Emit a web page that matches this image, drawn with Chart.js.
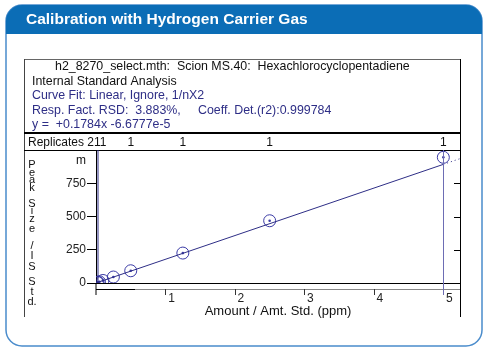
<!DOCTYPE html>
<html><head><meta charset="utf-8">
<script src="https://cdn.jsdelivr.net/npm/chart.js@4/dist/chart.umd.min.js"></script>
<style>html,body{margin:0;padding:0;background:#fff}canvas{display:block}</style>
</head><body>
<canvas id="c" width="487" height="353"></canvas>
<script>
// ---- data ----
const panelTitle = 'Calibration with Hydrogen Carrier Gas';
const infoLines = [
  'h2_8270_select.mth:  Scion MS.40:  Hexachlorocyclopentadiene',
  'Internal Standard Analysis',
  'Curve Fit: Linear, Ignore, 1/nX2',
  'Resp. Fact. RSD:  3.883%,     Coeff. Det.(r2):0.999784',
  'y =  +0.1784x -6.6777e-5'
];
const replicatesLabel = 'Replicates 211';
const replicateAmounts = [0.5, 1.25, 2.5, 5];
const replicateCounts = ['1', '1', '1', '1'];
const amounts = [0.02, 0.03, 0.05, 0.1, 0.25, 0.5, 1.25, 2.5, 5];
const responses = [3, 6, 9, 19, 45, 92, 225, 468, 945];
const fitX = [0, 5];
const fitY = [0, 892];
const extX = [5, 5.24];
const extY = [892, 935];
const xTicks = [1, 2, 3, 4, 5];
const yTicks = [0, 250, 500, 750];
const yTitleLetters = ['P','e','a','k','S','i','z','e','/','I','S','S','t','d.'];
const xTitle = 'Amount / Amt. Std. (ppm)';
const yUnit = 'm';

const FONT = "'Liberation Sans', Arial, sans-serif";
const NAVY = '#2e2e86';
const MARK = '#3b3ba6';

const framePlugin = {
  id: 'frame',
  beforeDraw(chart) {
    const c = chart.ctx;
    c.save();
    // panel outline
    const L = 6, T = 5, R = 482, B = 346, r = 16;
    c.beginPath();
    c.moveTo(L + r, T); c.lineTo(R - r, T); c.arcTo(R, T, R, T + r, r);
    c.lineTo(R, B - r); c.arcTo(R, B, R - r, B, r); c.lineTo(L + r, B);
    c.arcTo(L, B, L, B - r, r); c.lineTo(L, T + r); c.arcTo(L, T, L + r, T, r);
    c.closePath();
    c.fillStyle = '#fff'; c.fill();
    c.strokeStyle = '#4a8ccc'; c.lineWidth = 1.5; c.stroke();
    // header
    c.beginPath();
    c.moveTo(L, 34); c.lineTo(L, T + r); c.arcTo(L, T, L + r, T, r);
    c.lineTo(R - r, T); c.arcTo(R, T, R, T + r, r); c.lineTo(R, 34); c.closePath();
    c.fillStyle = '#0b6db6'; c.fill();
    c.fillStyle = '#fff';
    c.font = "bold 15.5px " + FONT;
    c.textBaseline = 'middle'; c.textAlign = 'left';
    c.fillText(panelTitle, 26, 19.5);

    // inner box
    c.lineWidth = 1;
    c.strokeStyle = '#666';
    c.beginPath(); c.moveTo(24, 59.5); c.lineTo(460, 59.5); c.stroke();
    c.strokeStyle = '#444';
    c.beginPath(); c.moveTo(24.5, 59); c.lineTo(24.5, 317); c.stroke();
    c.strokeStyle = '#000';
    c.beginPath(); c.moveTo(460.5, 59); c.lineTo(460.5, 317); c.stroke();
    c.lineWidth = 2;
    c.beginPath(); c.moveTo(24, 133); c.lineTo(461, 133); c.stroke();
    c.lineWidth = 1;
    c.beginPath(); c.moveTo(24, 150.5); c.lineTo(461, 150.5); c.stroke();

    // info text
    c.font = "12.4px " + FONT;
    const ys = [67, 81.5, 96, 110.5, 125];
    const xs = [55, 32, 32, 32, 32];
    infoLines.forEach((t, i) => {
      c.fillStyle = i < 2 ? '#111' : NAVY;
      c.fillText(t, xs[i], ys[i]);
    });
    // replicates
    c.fillStyle = '#111';
    c.font = "12px " + FONT;
    c.fillText(replicatesLabel, 28, 142.5);
    const xs2 = chart.scales.x;
    c.textAlign = 'center';
    replicateAmounts.forEach((a, i) => {
      c.fillText(replicateCounts[i], xs2.getPixelForValue(a), 142.5);
    });
    c.restore();
  },
  afterDraw(chart) {
    const c = chart.ctx;
    const xs = chart.scales.x, ys = chart.scales.y;
    const a = chart.chartArea;
    c.save();
    // double y axis line
    c.strokeStyle = NAVY; c.lineWidth = 1;
    c.beginPath(); c.moveTo(a.left + 2, a.top); c.lineTo(a.left + 2, a.bottom); c.stroke();
    // extend left axis line down
    c.strokeStyle = '#000';
    c.beginPath(); c.moveTo(a.left, a.bottom); c.lineTo(a.left, 295); c.stroke();
    // lower x axis line
    c.strokeStyle = '#888';
    c.beginPath(); c.moveTo(a.left, 289.5); c.lineTo(460, 289.5); c.stroke();
    c.strokeStyle = '#000';
    c.beginPath(); c.moveTo(a.left, 289.5); c.lineTo(135, 289.5); c.stroke();
    // x tick marks
    c.strokeStyle = '#333';
    xTicks.forEach(v => {
      const px = Math.round(xs.getPixelForValue(v)) + 0.5;
      c.beginPath(); c.moveTo(px, 289); c.lineTo(px, 295); c.stroke();
    });
    // right side ticks
    c.strokeStyle = '#000';
    yTicks.filter(v => v > 0).forEach(v => {
      const py = Math.round(ys.getPixelForValue(v)) + 0.5;
      c.beginPath(); c.moveTo(460, py); c.lineTo(454, py); c.stroke();
    });
    // vertical marker at highest standard
    c.strokeStyle = '#6d6db4';
    const vx = Math.round(xs.getPixelForValue(replicateAmounts[replicateAmounts.length - 1])) + 0.5;
    c.beginPath(); c.moveTo(vx, a.top); c.lineTo(vx, 295); c.stroke();
    // y title letters
    c.fillStyle = '#111';
    c.font = "11px " + FONT;
    c.textAlign = 'center'; c.textBaseline = 'middle';
    const ly = [165, 173, 180, 188, 204, 211, 219, 229, 246, 256, 267, 282, 292, 302];
    yTitleLetters.forEach((t, i) => c.fillText(t, 32, ly[i]));
    c.font = "12px " + FONT;
    c.fillText(yUnit, 81, 161);
    c.restore();
  }
};

new Chart(document.getElementById('c'), {
  type: 'scatter',
  data: {
    datasets: [
      { type: 'line', data: fitX.map((x, i) => ({ x, y: fitY[i] })), borderColor: NAVY, borderWidth: 1,
        pointRadius: 0, fill: false, tension: 0 },
      { type: 'line', data: extX.map((x, i) => ({ x, y: extY[i] })), borderColor: NAVY, borderWidth: 1,
        borderDash: [1, 3], pointRadius: 0, fill: false },
      { data: amounts.map((x, i) => ({ x, y: responses[i] })), pointStyle: 'circle', pointRadius: 6,
        borderColor: MARK, backgroundColor: 'rgba(0,0,0,0)', borderWidth: 1 },
      { data: amounts.map((x, i) => ({ x, y: responses[i] })), pointStyle: 'circle', pointRadius: 1.3,
        borderWidth: 0, backgroundColor: MARK }
    ]
  },
  options: {
    responsive: false, animation: false, devicePixelRatio: 1,
    layout: { padding: { left: 40, right: 27, top: 150, bottom: 34 } },
    plugins: { legend: { display: false }, tooltip: { enabled: false } },
    scales: {
      x: {
        type: 'linear', min: 0, max: 5.24,
        afterBuildTicks: s => { s.ticks = xTicks.map(v => ({ value: v })); },
        afterFit: s => { s.height = 36; },
        grid: { display: false, drawTicks: false },
        border: { display: true, color: '#000', width: 1 },
        ticks: { padding: 8, labelOffset: 6, color: '#222', font: { family: FONT, size: 12 },
                 maxRotation: 0, autoSkip: false },
        title: { display: true, text: xTitle, color: '#111', font: { family: FONT, size: 13 }, padding: 0 }
      },
      y: {
        min: 0, max: 1000,
        afterBuildTicks: s => { s.ticks = yTicks.map(v => ({ value: v })); },
        afterFit: s => { s.width = 56; },
        grid: { drawOnChartArea: false, drawTicks: true, tickLength: 9, color: '#000' },
        border: { display: true, color: '#000', width: 1 },
        ticks: { padding: 1, color: '#222', font: { family: FONT, size: 12 }, autoSkip: false }
      }
    }
  },
  plugins: [framePlugin]
});
</script>
</body></html>
